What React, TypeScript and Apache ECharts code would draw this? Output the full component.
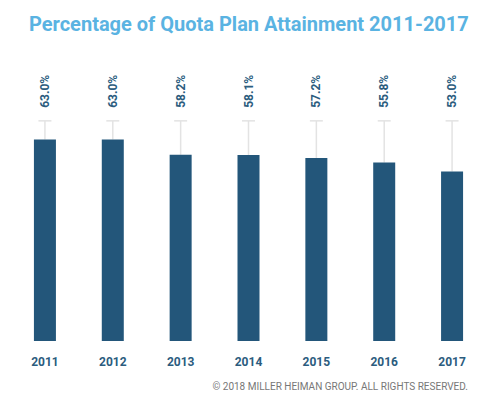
import React, { useEffect, useRef } from "react";
import * as echarts from "echarts";

const years = ["2011", "2012", "2013", "2014", "2015", "2016", "2017"];
const attainment = [63.0, 63.0, 58.2, 58.1, 57.2, 55.8, 53.0];
const whiskerTop = [68.8, 68.8, 68.8, 68.8, 68.8, 68.8, 68.8];
const titleText = "Percentage of Quota Plan Attainment 2011-2017";
const footerText = "© 2018 MILLER HEIMAN GROUP. ALL RIGHTS RESERVED.";

export default function App() {
  const ref = useRef<HTMLDivElement>(null);
  useEffect(() => {
    const chart = echarts.init(ref.current!, null, { renderer: "svg" });
    chart.setOption({
      animation: false,
      backgroundColor: "#ffffff",
      title: {
        text: titleText,
        left: 24,
        top: 9,
        textStyle: { color: "#5ab3e2", fontSize: 20, fontWeight: "bold", fontFamily: "Roboto" },
      },
      graphic: [
        {
          type: "text",
          right: 32,
          top: 381,
          style: { text: footerText, fill: "#777777", fontSize: 10, fontFamily: "Roboto" },
        },
      ],
      grid: { left: 11, right: 14, top: 117, bottom: 58 },
      xAxis: {
        type: "category",
        data: years,
        axisLine: { show: false },
        axisTick: { show: false },
        axisLabel: { color: "#2b5c7e", fontWeight: "bold", fontSize: 12, fontFamily: "Roboto", margin: 15 },
      },
      yAxis: { type: "value", min: 0, max: 70, show: false, splitLine: { show: false } },
      series: [
        {
          type: "custom",
          data: years.map((_, i) => [i, whiskerTop[i], attainment[i]]),
          z: 1,
          renderItem: (params: any, api: any) => {
            const i = api.value(0);
            const top = api.coord([i, api.value(1)]);
            const bot = api.coord([i, api.value(2)]);
            const lineStyle = { stroke: "#e3e3e3", lineWidth: 1.5 };
            return {
              type: "group",
              children: [
                { type: "line", shape: { x1: top[0], y1: top[1], x2: bot[0], y2: bot[1] }, style: lineStyle },
                { type: "line", shape: { x1: top[0] - 6.5, y1: top[1], x2: top[0] + 6.5, y2: top[1] }, style: lineStyle },
                {
                  type: "text",
                  x: top[0],
                  y: top[1] - 13,
                  rotation: Math.PI / 2,
                  style: {
                    text: api.value(2).toFixed(1) + "%",
                    fill: "#2b5c7e",
                    fontSize: 12,
                    fontWeight: "bold",
                    fontFamily: "Roboto",
                    align: "left",
                    verticalAlign: "middle",
                  },
                },
              ],
            };
          },
        },
        {
          type: "bar",
          data: attainment,
          barWidth: 22,
          z: 2,
          itemStyle: { color: "#23567a" },
        },
      ],
    });
    return () => chart.dispose();
  }, []);
  return <div ref={ref} style={{ position: "absolute", left: 0, top: 0, width: 500, height: 399 }} />;
}
